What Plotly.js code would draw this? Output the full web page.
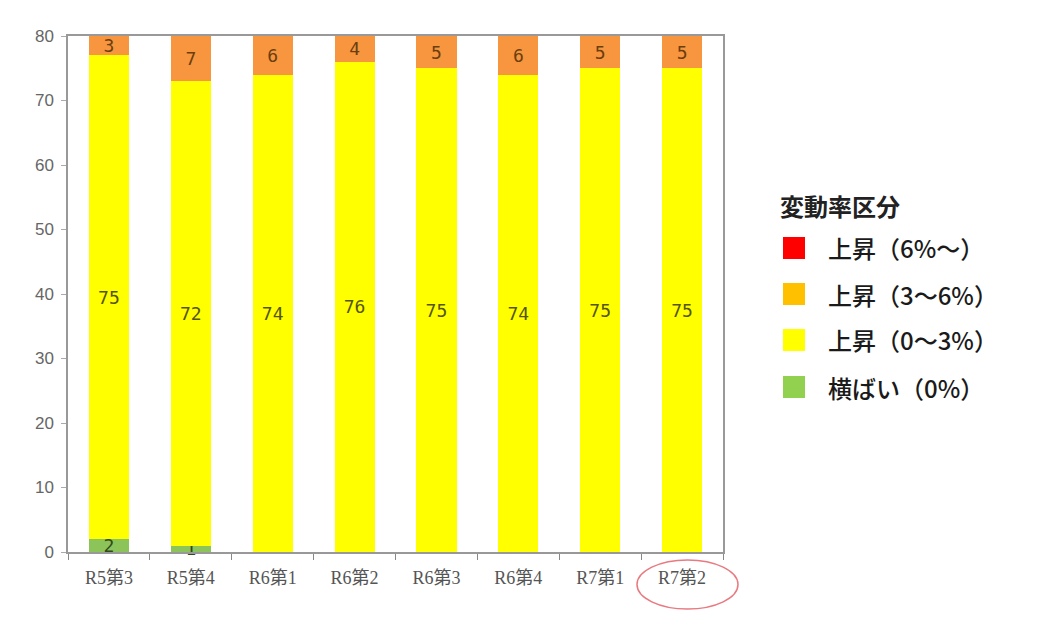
<!DOCTYPE html>
<html>
<head>
<meta charset="utf-8">
<script src="https://cdn.plot.ly/plotly-3.0.1.min.js"></script>
<style>
  body { margin: 0; background: #fff; }
  #chart { width: 1049px; height: 628px; }
</style>
</head>
<body>
<div id="chart"></div>
<script>
// quarters on the x axis
var quarters = ["R5第3", "R5第4", "R6第1", "R6第2", "R6第3", "R6第4", "R7第1", "R7第2"];

// counts per change-rate class (bottom to top)
var flat = [2, 1, 0, 0, 0, 0, 0, 0];          // 横ばい（0%）
var up0to3 = [75, 72, 74, 76, 75, 74, 75, 75]; // 上昇（0～3%）
var up3to6 = [3, 7, 6, 4, 5, 6, 5, 5];         // 上昇（3～6%）
var up6plus = [0, 0, 0, 0, 0, 0, 0, 0];        // 上昇（6%～）

var legendTitle = "変動率区分";
var legendNames = ["上昇（6%～）", "上昇（3～6%）", "上昇（0～3%）", "横ばい（0%）"];
var legendColors = ["#FF0000", "#FFC000", "#FFFF00", "#92D050"];

var labelFont = "DejaVu Sans Mono, monospace";

function labels(arr) {
  return arr.map(function (v) { return v > 0 ? String(v) : ""; });
}

function barTrace(vals, name, color, textColor) {
  return {
    type: "bar",
    x: quarters,
    y: vals,
    name: name,
    marker: { color: color },
    text: labels(vals),
    textposition: "inside",
    insidetextanchor: "middle",
    textangle: 0,
    textfont: { family: labelFont, size: 18, color: textColor },
    constraintext: "none",
    cliponaxis: false,
    hoverinfo: "x+y+name",
    showlegend: false
  };
}

var data = [
  barTrace(flat, legendNames[3], "#8CC45A", "#2f4a1c"),
  barTrace(up0to3, legendNames[2], "#FFFF00", "#55550f"),
  barTrace(up3to6, legendNames[1], "#F7963E", "#6b3e10"),
  barTrace(up6plus, legendNames[0], "#FF0000", "#333333")
];

// hand-drawn legend on the right (paper coordinates)
var plotL = 68, plotR = 723, plotT = 36, plotB = 552;
function px(x) { return (x - plotL) / (plotR - plotL); }
function py(y) { return (plotB - y) / (plotB - plotT); }

var shapes = [];
var annotations = [{
  xref: "paper", yref: "paper",
  x: px(778), y: py(205), xanchor: "left", yanchor: "middle",
  text: "<b>" + legendTitle + "</b>", showarrow: false,
  font: { family: "Noto Sans CJK JP", size: 24, color: "#222" }
}];
var rowY = [248, 294, 340, 387];
for (var i = 0; i < legendNames.length; i++) {
  shapes.push({
    type: "rect", xref: "paper", yref: "paper",
    x0: px(783), x1: px(805), y0: py(rowY[i] + 11), y1: py(rowY[i] - 11),
    fillcolor: legendColors[i], line: { width: 0 }
  });
  annotations.push({
    xref: "paper", yref: "paper",
    x: px(826), y: py(rowY[i]), xanchor: "left", yanchor: "middle",
    text: legendNames[i], showarrow: false,
    font: { family: "Noto Sans CJK JP", size: 24, color: "#1a1a1a", weight: 500 }
  });
}

// red ring around the latest quarter
shapes.push({
  type: "circle", xref: "paper", yref: "paper",
  x0: px(637), x1: px(738), y0: py(609), y1: py(560),
  line: { color: "#E87A80", width: 1.5 }
});

var layout = {
  width: 1049,
  height: 628,
  margin: { l: plotL, r: 1049 - plotR, t: plotT, b: 628 - plotB },
  paper_bgcolor: "#fff",
  plot_bgcolor: "#fff",
  barmode: "stack",
  bargap: 0.51,
  showlegend: false,
  xaxis: {
    type: "category",
    tickson: "boundaries",
    ticks: "outside",
    ticklen: 6,
    tickcolor: "#888",
    ticklabelstandoff: 9,
    showline: true,
    linecolor: "#999",
    linewidth: 1.5,
    mirror: true,
    showgrid: false,
    tickfont: { family: "Liberation Serif, Noto Sans CJK JP", size: 18, color: "#555" }
  },
  yaxis: {
    range: [0, 80],
    dtick: 10,
    ticks: "outside",
    ticklen: 5,
    tickcolor: "#aaa",
    ticklabelstandoff: 4,
    showline: true,
    linecolor: "#999",
    linewidth: 1.5,
    mirror: true,
    showgrid: false,
    zeroline: false,
    tickfont: { family: "Liberation Sans, Arial", size: 17, color: "#666" }
  },
  shapes: shapes,
  annotations: annotations
};

Plotly.newPlot("chart", data, layout, { displayModeBar: false });
</script>
</body>
</html>
